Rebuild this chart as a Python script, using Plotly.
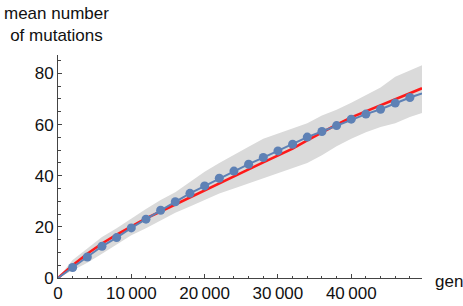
import plotly.graph_objects as go

# generations sampled (blue points)
gen_pts = [2000, 4000, 6000, 8000, 10000, 12000, 14000, 16000, 18000, 20000,
           22000, 24000, 26000, 28000, 30000, 32000, 34000, 36000, 38000, 40000,
           42000, 44000, 46000, 48000]
mean_pts = [4.1, 8.2, 12.4, 15.8, 19.6, 23.0, 26.5, 29.8, 33.1, 36.0,
            39.0, 41.8, 44.5, 47.1, 49.7, 52.3, 55.1, 57.3, 59.6, 62.1,
            64.1, 66.0, 68.4, 70.6]
# full mean line (connects origin, points, end)
line_gen = [0] + gen_pts + [49650]
line_mean = [0] + mean_pts + [72.2]

# red (theory / fit) curve
red_gen = [0, 2000, 4000, 6000, 8000, 10000, 12000, 14000, 16000, 18000, 20000,
           22000, 24000, 26000, 28000, 30000, 32000, 34000, 36000, 38000, 40000,
           42000, 44000, 46000, 48000, 49650]
red_val = [0, 5.0, 9.5, 13.5, 17.0, 20.3, 23.3, 26.0, 28.8, 31.6, 34.3,
           37.1, 39.8, 42.5, 45.2, 47.8, 50.6, 53.8, 57.0, 60.0, 62.8,
           65.2, 67.5, 70.0, 72.4, 74.2]

# grey spread band
band_gen = [0, 2000, 4000, 6000, 8000, 10000, 12000, 14000, 16000, 18000, 20000,
            22000, 24000, 26000, 28000, 30000, 32000, 34000, 36000, 38000, 40000,
            42000, 44000, 46000, 48000, 49650]
band_upper = [0, 7.0, 11.5, 16.0, 19.5, 23.3, 27.0, 30.5, 33.5, 37.5, 41.5,
              45.0, 48.0, 51.3, 54.5, 56.5, 58.3, 60.5, 63.5, 65.8, 68.5,
              71.5, 74.5, 78.7, 81.0, 83.2]
band_lower = [0, 3.0, 6.0, 9.5, 13.0, 16.7, 19.5, 22.5, 25.5, 28.0, 30.5,
              33.0, 35.0, 37.0, 39.0, 41.0, 43.0, 45.0, 48.0, 51.5, 54.5,
              57.0, 59.0, 60.5, 63.0, 64.5]

x_ticks = [0, 10000, 20000, 30000, 40000]
x_tick_labels = ["0", "10\u2009000", "20\u2009000", "30\u2009000", "40\u2009000"]
y_ticks = [0, 20, 40, 60, 80]

BLUE = "#5E81B5"
fig = go.Figure()
fig.add_trace(go.Scatter(x=band_gen, y=band_lower, mode="lines",
                         line=dict(width=0, color="rgba(0,0,0,0)"),
                         hoverinfo="skip", showlegend=False))
fig.add_trace(go.Scatter(x=band_gen, y=band_upper, mode="lines",
                         line=dict(width=0, color="rgba(0,0,0,0)"),
                         fill="tonexty", fillcolor="rgb(218,218,218)",
                         hoverinfo="skip", showlegend=False))
fig.add_trace(go.Scatter(x=red_gen, y=red_val, mode="lines",
                         line=dict(color="#FF1A1A", width=2.6),
                         showlegend=False))
fig.add_trace(go.Scatter(x=line_gen, y=line_mean, mode="lines",
                         line=dict(color=BLUE, width=2),
                         showlegend=False))
fig.add_trace(go.Scatter(x=gen_pts, y=mean_pts, mode="markers",
                         marker=dict(color=BLUE, size=9),
                         showlegend=False))

font = dict(family="Liberation Sans, Arial, sans-serif", size=17, color="#111")
axis_common = dict(showgrid=False, zeroline=False, showline=True,
                   linecolor="#444", linewidth=1, ticks="inside",
                   tickcolor="#444", ticklen=4, tickwidth=1,
                   tickfont=font)
fig.update_xaxes(range=[0, 49650], tickvals=x_ticks, ticktext=x_tick_labels,
                 minor=dict(ticks="inside", dtick=2000, tick0=0, ticklen=2.5,
                            tickcolor="#444", tickwidth=1),
                 **axis_common)
fig.update_yaxes(range=[0, 87.2], tickvals=y_ticks,
                 minor=dict(ticks="inside", dtick=5, tick0=0, ticklen=2.5,
                            tickcolor="#444", tickwidth=1),
                 **axis_common)
fig.update_layout(
    width=463, height=306,
    margin=dict(l=58, r=41, t=55, b=28, autoexpand=False),
    paper_bgcolor="white", plot_bgcolor="white",
    font=font,
    annotations=[
        dict(text="mean number<br>of mutations", xref="paper", yref="paper",
             x=-0.003, y=1.0, yshift=53, xanchor="center", yanchor="top",
             showarrow=False, align="center", font=font),
        dict(text="gen", xref="paper", yref="paper", x=1.0, y=0.0,
             xshift=11, yshift=-3, xanchor="left", yanchor="middle",
             showarrow=False, font=font),
    ],
)
fig.write_html("out.html",
               config={"displayModeBar": False, "staticPlot": True},
               post_script="document.body.style.margin='0';"
                           "document.body.style.overflow='hidden';")
